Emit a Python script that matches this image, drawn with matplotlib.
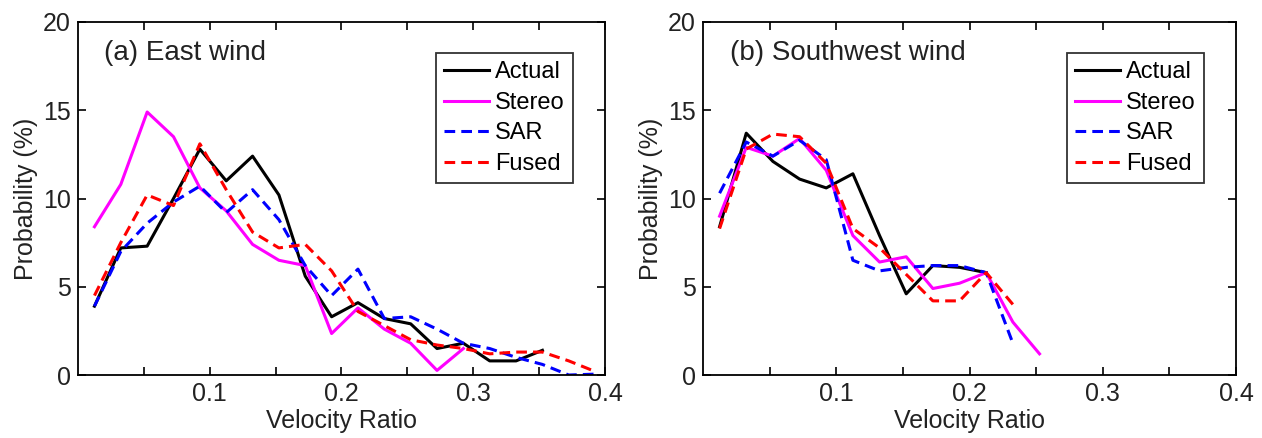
import matplotlib
matplotlib.use("Agg")
import matplotlib.pyplot as plt

plt.rcParams['font.family'] = ['Liberation Sans', 'DejaVu Sans']

# bin centres of the velocity ratio histogram
bins = [0.0125, 0.0325, 0.0525, 0.0725, 0.0925, 0.1125, 0.1325, 0.1525, 0.1725, 0.1925,
        0.2125, 0.2325, 0.2525, 0.2725, 0.2925, 0.3125, 0.3325, 0.3525, 0.3725, 0.3925]

# (a) east wind
east_actual = [3.9, 7.2, 7.3, 10.0, 12.8, 11.0, 12.4, 10.2, 5.6, 3.3, 4.1, 3.2, 2.9, 1.5, 1.8, 0.8, 0.8, 1.4]
east_stereo = [8.4, 10.8, 14.9, 13.5, 10.6, 9.3, 7.4, 6.5, 6.2, 2.35, 3.8, 2.6, 1.8, 0.26, 1.5]
east_sar = [3.9, 7.0, 8.6, 9.8, 10.7, 9.2, 10.5, 8.8, 6.2, 4.5, 6.0, 3.2, 3.3, 2.6, 1.8, 1.5, 1.0, 0.6, 0.0, 0.05]
east_fused = [4.5, 7.5, 10.2, 9.6, 13.1, 10.5, 8.1, 7.2, 7.4, 5.9, 3.6, 2.8, 2.0, 1.7, 1.5, 1.2, 1.3, 1.3, 0.8, 0.2]

# (b) southwest wind
sw_actual = [8.4, 13.7, 12.1, 11.1, 10.6, 11.4, 7.9, 4.6, 6.2, 6.1, 5.8]
sw_stereo = [9.0, 12.9, 12.4, 13.4, 11.6, 7.9, 6.4, 6.7, 4.9, 5.2, 5.8, 3.0, 1.2]
sw_sar = [10.3, 13.2, 12.4, 13.3, 12.2, 6.5, 5.9, 6.1, 6.2, 6.2, 5.8, 1.8]
sw_fused = [8.3, 12.8, 13.65, 13.5, 12.0, 8.3, 7.2, 5.7, 4.2, 4.2, 5.8, 4.0]

panels = [
    ("(a) East wind", east_actual, east_stereo, east_sar, east_fused),
    ("(b) Southwest wind", sw_actual, sw_stereo, sw_sar, sw_fused),
]

fig = plt.figure(figsize=(12.62, 4.38), dpi=100)
ax_a = fig.add_axes([0.0618, 0.1438, 0.4176, 0.806])
ax_b = fig.add_axes([0.557, 0.1438, 0.4225, 0.806])

tick_pos = [0.05, 0.1, 0.15, 0.2, 0.25, 0.3, 0.35, 0.4]
tick_lab = ['', '0.1', '', '0.2', '', '0.3', '', '0.4']
dash = (3.5, 2)

for ax, (title, act, ste, sar, fus) in zip([ax_a, ax_b], panels):
    ax.plot(bins[:len(act)], act, color='black', lw=2.2, label='Actual')
    ax.plot(bins[:len(ste)], ste, color='#ff00ff', lw=2.2, label='Stereo')
    ax.plot(bins[:len(sar)], sar, color='#0000ff', lw=2.2, dashes=dash, label='SAR')
    ax.plot(bins[:len(fus)], fus, color='#ff0000', lw=2.2, dashes=dash, label='Fused')

    ax.set_xlim(0, 0.4)
    ax.set_ylim(0, 20)
    ax.set_xticks(tick_pos)
    ax.set_xticklabels(tick_lab)
    ax.set_yticks([0, 5, 10, 15, 20])
    ax.tick_params(direction='in', top=True, right=True, length=6, width=1.2,
                   labelsize=18, labelcolor='#222222', pad=5)
    for sp in ax.spines.values():
        sp.set_linewidth(1.3)
    ax.set_xlabel('Velocity Ratio', fontsize=18, color='#222222', labelpad=2)
    ax.text(0.05, 0.95, title, transform=ax.transAxes, fontsize=20,
            color='#222222', va='top', ha='left')
    leg = ax.legend(loc='upper right', bbox_to_anchor=(0.939, 0.912), fontsize=17,
                    frameon=True, fancybox=False, edgecolor='black', handlelength=1.9,
                    handletextpad=0.25, borderpad=0.35, labelspacing=0.36, borderaxespad=0)
    leg.get_frame().set_linewidth(1.3)

ax_a.set_ylabel('Probability (%)', fontsize=18, color='#222222', labelpad=4)
ax_b.set_ylabel('Probability (%)', fontsize=18, color='#222222', labelpad=4)

fig.savefig('out.png', dpi=100)
